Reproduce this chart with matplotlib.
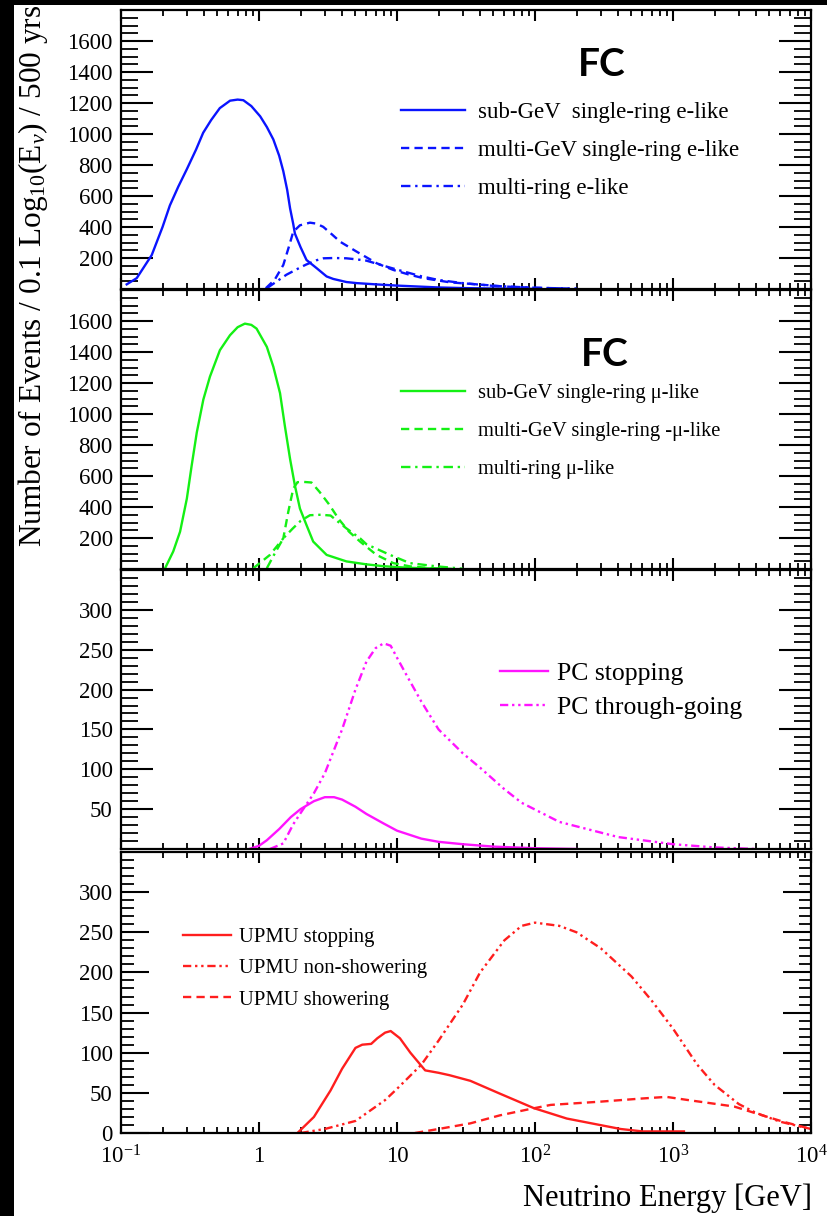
import matplotlib
matplotlib.use("Agg")
import matplotlib.pyplot as plt
from matplotlib.patches import Rectangle
from matplotlib.ticker import FixedLocator, MultipleLocator, LogLocator, NullFormatter

plt.rcParams['font.family'] = ['Liberation Serif', 'DejaVu Serif']
plt.rcParams['mathtext.fontset'] = 'custom'
plt.rcParams['mathtext.rm'] = 'Liberation Serif'
plt.rcParams['mathtext.it'] = 'Liberation Serif:italic'

# ---------------- data (energy in GeV, events / 0.1 log10 E / 500 yrs) ----------------
# Panel 1: FC e-like
e_sub_E = [0.11, 0.13, 0.167, 0.20, 0.226, 0.26, 0.30, 0.35, 0.394, 0.45, 0.52, 0.617, 0.70, 0.77,
           0.88, 1.02, 1.14, 1.27, 1.40, 1.50, 1.60, 1.68, 1.77, 1.82, 2.0, 2.21, 2.62, 3.09, 3.45,
           4.3, 5.1, 7.0, 10, 15, 20, 30, 50, 100]
e_sub_N = [30, 70, 219, 400, 539, 660, 773, 900, 1008, 1090, 1167, 1215, 1222, 1218,
           1180, 1114, 1045, 965, 860, 760, 640, 520, 420, 358, 270, 187, 134, 81, 65,
           45, 38, 30, 22, 15, 10, 6, 3, 1]
e_mgsr_E = [1.12, 1.3, 1.5, 1.66, 1.77, 1.98, 2.34, 2.6, 2.92, 3.4, 3.87, 5.1, 7.13, 9.4, 12, 15.5,
            24.2, 41.9, 60, 100, 200]
e_mgsr_N = [5, 60, 155, 283, 369, 411, 428, 422, 401, 350, 305, 241, 166, 123, 95, 70,
            43, 27, 16, 8, 2]
e_mr_E = [1.14, 1.3, 1.58, 2.0, 2.2, 2.6, 2.93, 3.5, 4.3, 5.0, 6.0, 8.0, 10, 15, 20, 30, 50,
          100, 200]
e_mr_N = [5, 40, 92, 140, 158, 185, 198, 200, 198, 192, 183, 150, 125, 82, 58, 38, 20,
          8, 2]

# Panel 2: FC mu-like
m_sub_E = [0.21, 0.239, 0.268, 0.30, 0.325, 0.354, 0.395, 0.441, 0.521, 0.616, 0.70, 0.79, 0.88,
           0.96, 1.14, 1.27, 1.42, 1.54, 1.68, 1.82, 1.98, 2.21, 2.47, 3.09, 4.3, 6.0, 8.0, 12,
           20]
m_sub_N = [10, 113, 241, 454, 666, 880, 1093, 1241, 1412, 1508, 1560, 1583, 1575,
           1551, 1433, 1305, 1135, 922, 709, 539, 390, 283, 177, 91, 49, 30, 18, 8,
           2]
m_mgsr_E = [0.91, 1.2, 1.5, 1.63, 1.77, 1.9, 2.1, 2.4, 2.75, 3.2, 3.8, 4.5, 5.4, 7.1, 9.4,
            12.4, 18, 25]
m_mgsr_N = [5, 91, 198, 369, 518, 560, 562, 558, 497, 420, 320, 240, 177, 91, 38,
            17, 5, 1]
m_mr_E = [1.14, 1.3, 1.5, 1.75, 2.0, 2.34, 2.8, 3.3, 3.8, 4.3, 5.4, 6.0, 8.9, 12.4, 19.4, 30]
m_mr_N = [5, 100, 198, 260, 310, 347, 350, 345, 300, 262, 198, 160, 91, 38, 17, 2]

# Panel 3: PC
pc_stop_E = [0.85, 1.0, 1.14, 1.4, 1.7, 2.0, 2.5, 3.0, 3.5, 4.0, 5.0, 6.0, 8.0, 10, 15, 20,
             30, 50, 100, 200]
pc_stop_N = [0, 4, 11, 25, 40, 50, 60, 65, 65, 62, 53, 44, 32, 23, 13, 9,
             6, 3, 1, 0]
pc_thru_E = [1.2, 1.5, 1.77, 2.0, 2.5, 3.0, 4.0, 5.0, 6.0, 7.0, 8.0, 9.0, 10, 12, 15, 20,
             30, 40, 60, 80, 150, 400, 1000, 2000, 4000]
pc_thru_N = [0, 7, 31, 45, 70, 95, 150, 200, 235, 252, 258, 255, 240, 215, 185, 150,
             120, 102, 75, 58, 34, 15, 6, 2, 0]

# Panel 4: UPMU
up_stop_E = [1.9, 2.5, 3.3, 4.0, 5.0, 5.6, 6.5, 7.2, 8.2, 9.0, 10.5, 12.5, 16, 20, 24, 34,
             55.7, 98, 170, 295, 417, 600, 1200]
up_stop_N = [0, 20, 53, 80, 106, 110, 111, 118, 125, 127, 118, 100, 78, 75, 72, 65,
             49, 31, 18, 10, 5, 2, 2]
up_nonsh_E = [2.0, 3.0, 5.0, 8.2, 10, 15, 20, 30, 40, 60, 80, 100, 150, 200, 300, 500,
              700, 1000, 1500, 2000, 3000, 4000, 6000, 10000]
up_nonsh_N = [0, 5, 15, 41, 55, 85, 115, 160, 200, 240, 258, 262, 258, 250, 230, 195,
              165, 130, 85, 60, 36, 25, 14, 5]
up_show_E = [13.5, 20, 34, 55.7, 87, 130, 295, 600, 895, 1290, 2770, 3900, 6300, 10000]
up_show_N = [0, 5, 12, 22, 29, 35, 39, 43, 45, 41, 33, 25, 14, 5]

# labels
xtick_vals = [0.1, 1, 10, 100, 1000, 10000]
xtick_labels = [r'$10^{-1}$', '1', '10', r'$10^{2}$', r'$10^{3}$', r'$10^{4}$']
leg1 = ['sub-GeV  single-ring e-like', 'multi-GeV single-ring e-like', 'multi-ring e-like']
leg2 = ['sub-GeV single-ring \u03bc-like', 'multi-GeV single-ring -\u03bc-like', 'multi-ring \u03bc-like']
leg3 = ['PC stopping', 'PC through-going']
leg4 = ['UPMU stopping', 'UPMU non-showering', 'UPMU showering']

# ---------------- styles ----------------
BLUE = '#0a14ff'
GREEN = '#14f014'
MAGENTA = '#ff14ff'
RED = '#ff1e1e'
LW = 1.7
DASHED = (0, (3.5, 2.2))
DASHDOT = (0, (4.0, 2.0, 1.0, 2.0))
DASHDOTDOT = (0, (3.5, 1.6, 1.0, 1.6, 1.0, 1.6))

W, H = 828, 1216
fig = plt.figure(figsize=(W / 100, H / 100), dpi=100)
fig.patch.set_facecolor('black')
fig.patches.append(Rectangle((14 / W, 0), 1 - 14 / W, 1 - 5 / H, transform=fig.transFigure,
                             facecolor='white', edgecolor='none', zorder=-10))

left = 121 / W
width = 690 / W
panels_px = [(10, 289), (290, 569), (570, 849), (852, 1133)]
axes = []
for (t, b) in panels_px:
    ax = fig.add_axes([left, 1 - b / H, width, (b - t) / H])
    ax.set_zorder(2)
    ax.patch.set_alpha(0)
    axes.append(ax)

for i, ax in enumerate(axes):
    ax.set_xscale('log')
    ax.set_xlim(0.1, 1e4)
    for s in ax.spines.values():
        s.set_linewidth(1.6)
    ax.xaxis.set_major_locator(FixedLocator(xtick_vals))
    ax.xaxis.set_minor_locator(LogLocator(base=10, subs=range(2, 10), numticks=20))
    ax.xaxis.set_minor_formatter(NullFormatter())
    if i == 3:
        ax.set_xticklabels(xtick_labels)
        majl, minl = 20, 9
    else:
        ax.set_xticklabels([])
        majl, minl = 23, 12
    ax.tick_params(axis='x', which='major', direction='in', top=True, bottom=True,
                   length=8, width=1.5, labelsize=16.5, pad=9)
    ax.tick_params(axis='x', which='minor', direction='in', top=True, bottom=True,
                   length=4.5, width=1.3)
    ax.tick_params(axis='y', which='major', direction='in', left=True, right=True,
                   length=majl, width=1.5, labelsize=16.5, pad=6)
    ax.tick_params(axis='y', which='minor', direction='in', left=True, right=True,
                   length=minl, width=1.3)

# panel 1
ax = axes[0]
ax.plot(e_sub_E, e_sub_N, color=BLUE, lw=LW, ls='-', label=leg1[0])
ax.plot(e_mgsr_E, e_mgsr_N, color=BLUE, lw=LW, ls=DASHED, label=leg1[1])
ax.plot(e_mr_E, e_mr_N, color=BLUE, lw=LW, ls=DASHDOT, label=leg1[2])
ax.set_ylim(0, 1800)
ax.set_yticks([200, 400, 600, 800, 1000, 1200, 1400, 1600])
ax.yaxis.set_minor_locator(MultipleLocator(50))
fig.text(602 / W, 1 - 65 / H, 'FC', ha='center', va='center',
         fontsize=28, fontweight='bold', family=['Lato', 'DejaVu Sans'], zorder=5)

# panel 2
ax = axes[1]
ax.plot(m_sub_E, m_sub_N, color=GREEN, lw=LW, ls='-', label=leg2[0])
ax.plot(m_mgsr_E, m_mgsr_N, color=GREEN, lw=LW, ls=DASHED, label=leg2[1])
ax.plot(m_mr_E, m_mr_N, color=GREEN, lw=LW, ls=DASHDOT, label=leg2[2])
ax.set_ylim(0, 1800)
ax.set_yticks([200, 400, 600, 800, 1000, 1200, 1400, 1600])
ax.yaxis.set_minor_locator(MultipleLocator(50))
fig.text(605 / W, 1 - 354 / H, 'FC', ha='center', va='center',
         fontsize=28, fontweight='bold', family=['Lato', 'DejaVu Sans'], zorder=5)

# panel 3
ax = axes[2]
ax.plot(pc_stop_E, pc_stop_N, color=MAGENTA, lw=LW, ls='-', label=leg3[0])
ax.plot(pc_thru_E, pc_thru_N, color=MAGENTA, lw=LW, ls=DASHDOTDOT, label=leg3[1])
ax.set_ylim(0, 350)
ax.set_yticks([50, 100, 150, 200, 250, 300])
ax.yaxis.set_minor_locator(MultipleLocator(10))

# panel 4
ax = axes[3]
ax.plot(up_stop_E, up_stop_N, color=RED, lw=LW, ls='-', label=leg4[0])
ax.plot(up_nonsh_E, up_nonsh_N, color=RED, lw=LW, ls=DASHDOTDOT, label=leg4[1])
ax.plot(up_show_E, up_show_N, color=RED, lw=LW, ls=DASHED, label=leg4[2])
ax.set_ylim(0, 350)
ax.set_yticks([0, 50, 100, 150, 200, 250, 300])
ax.yaxis.set_minor_locator(MultipleLocator(10))


def place_legend(ax, x0_px, y0_px, fs, hl, pad, spacing):
    fx = x0_px / W
    fy = 1 - y0_px / H
    leg = ax.legend(loc='upper left', bbox_to_anchor=(fx, fy), bbox_transform=fig.transFigure,
                    frameon=False, fontsize=fs, handlelength=hl, handletextpad=pad,
                    labelspacing=spacing, borderpad=0, borderaxespad=0)
    return leg


place_legend(axes[0], 401, 101.5, 16.5, 2.8, 0.57, 0.74)
place_legend(axes[1], 401, 383.5, 14.8, 3.1, 0.63, 0.92)
place_legend(axes[2], 500, 662.5, 18.5, 1.87, 0.35, 0.42)
place_legend(axes[3], 183, 927.5, 14.9, 2.3, 0.39, 0.57)

fig.text(33 / W, 1 - 547 / H, r'Number of Events / 0.1 Log$_{10}$(E$_{\nu}$) / 500 yrs',
         rotation=90, rotation_mode='anchor', ha='left', va='center', fontsize=22.5)
fig.text(812 / W, 1 - 1198 / H, 'Neutrino Energy [GeV]', ha='right', va='center', fontsize=22)

fig.savefig('out.png', dpi=100, facecolor=fig.get_facecolor())
